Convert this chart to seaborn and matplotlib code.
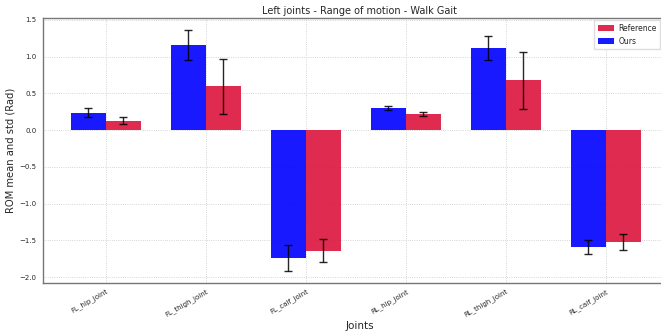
import matplotlib
matplotlib.use("Agg")
import matplotlib.pyplot as plt
import seaborn as sns
import pandas as pd

# Joint names and range-of-motion statistics (radians)
joints = ["FL_hip_joint", "FL_thigh_joint", "FL_calf_joint",
          "RL_hip_joint", "RL_thigh_joint", "RL_calf_joint"]
ours_mean = [0.24, 1.16, -1.74, 0.30, 1.12, -1.59]
ours_std = [0.065, 0.20, 0.18, 0.025, 0.16, 0.10]
ref_mean = [0.13, 0.60, -1.64, 0.22, 0.68, -1.52]
ref_std = [0.045, 0.375, 0.155, 0.025, 0.39, 0.11]

series = ["Ours", "Reference"]
colors = {"Ours": "blue", "Reference": "crimson"}

df = pd.DataFrame({
    "Joints": joints * 2,
    "ROM": ours_mean + ref_mean,
    "Source": ["Ours"] * len(joints) + ["Reference"] * len(joints),
})

sns.set_theme(style="whitegrid")
plt.rcParams["font.family"] = ["DejaVu Sans"]

fig = plt.figure(figsize=(6.61, 3.32), dpi=100)
ax = fig.add_axes([0.065, 0.1476, 0.959, 0.7982])

sns.barplot(data=df, x="Joints", y="ROM", hue="Source", hue_order=series,
            palette=colors, alpha=0.9, width=0.7, errorbar=None,
            saturation=1, ax=ax, linewidth=0)

stds = {"Ours": ours_std, "Reference": ref_std}
means = {"Ours": ours_mean, "Reference": ref_mean}
for name, container in zip(series, ax.containers):
    xs = [p.get_x() + p.get_width() / 2 for p in container.patches]
    ax.errorbar(xs, means[name], yerr=stds[name], fmt="none",
                ecolor="black", elinewidth=1.0, capsize=3, capthick=1.0,
                alpha=0.85, zorder=5)

ax.set_xlim(-0.63, 5.71)
ax.set_ylim(-2.08, 1.527)
ax.set_yticks([-2.0, -1.5, -1.0, -0.5, 0.0, 0.5, 1.0, 1.5])

ax.set_title("Left joints - Range of motion - Walk Gait", fontsize=7, pad=3)
ax.set_xlabel("Joints", fontsize=7.5, labelpad=2)
ax.set_ylabel("ROM mean and std (Rad)", fontsize=7.2, labelpad=3)

ax.tick_params(axis="y", labelsize=5, length=2.5, width=0.6, color="#555555", pad=2)
ax.tick_params(axis="x", labelsize=5, length=2.5, width=0.6, color="#555555", pad=1)
plt.setp(ax.get_xticklabels(), rotation=30, ha="right", rotation_mode="anchor")

ax.grid(True, linestyle=":", linewidth=0.6, color="#c8c8c8")
ax.set_axisbelow(True)
for side in ["left", "bottom", "top", "right"]:
    ax.spines[side].set_visible(True)
    ax.spines[side].set_color("#777777")
    ax.spines[side].set_linewidth(1.0)

handles, labels = ax.get_legend_handles_labels()
order = [labels.index("Reference"), labels.index("Ours")]
ax.legend([handles[i] for i in order], [labels[i] for i in order],
          loc="upper right", bbox_to_anchor=(0.999, 0.94),
          bbox_transform=fig.transFigure, fontsize=5.5, frameon=True,
          framealpha=1, edgecolor="#dddddd", fancybox=False,
          handlelength=2.0, handletextpad=0.6, borderpad=0.5,
          labelspacing=0.5, borderaxespad=0)

fig.savefig("out.png", dpi=100)
